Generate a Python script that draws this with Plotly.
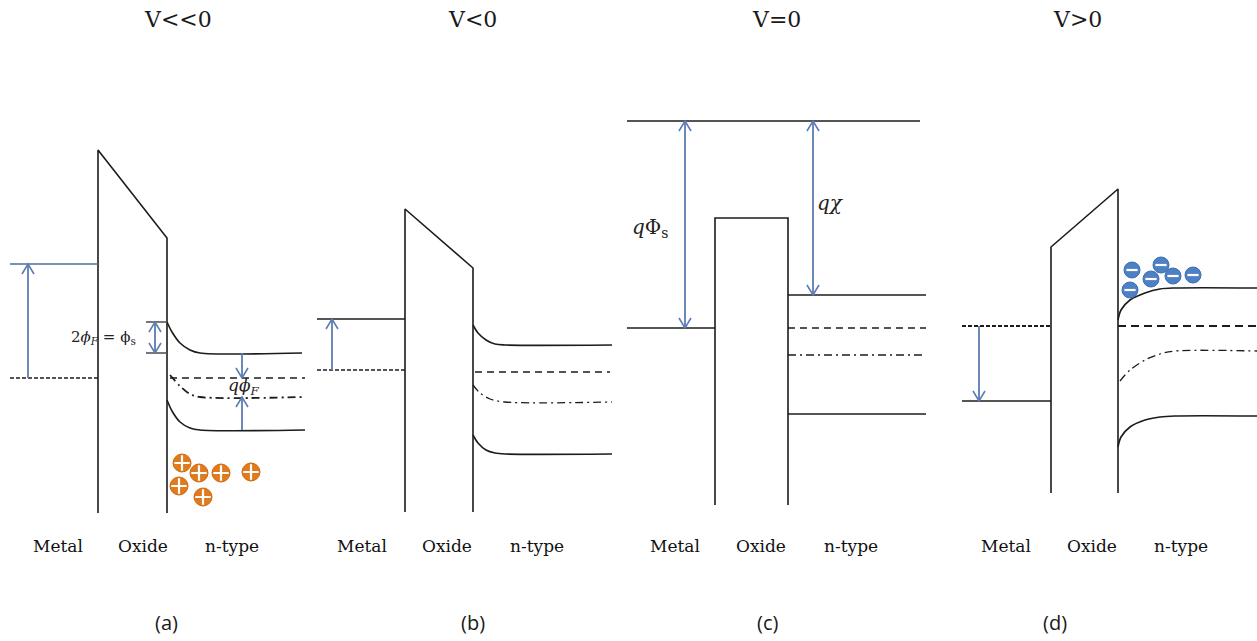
import plotly.graph_objects as go

# ---------------- data (pixel-space coordinates) -------------
titles = ["V<<0", "V<0", "V=0", "V>0"]
title_x = [178, 472, 776, 1077]
panel_tags = ["(a)", "(b)", "(c)", "(d)"]
tag_x = [166, 473, 767, 1055]
region_names = ["Metal", "Oxide", "n-type"]
region_x = [[58, 143, 232], [362, 447, 537], [675, 761, 851], [1006, 1092, 1181]]

# panel (a)
oxide_a_x = [98, 98, 167, 167]
oxide_a_y = [513, 150, 238, 513]
metal_a_x = [10, 98]
metal_a_top = 264
metal_a_ef = 378
cb_a_x = [167, 172, 180, 190, 200, 302]
cb_a_y = [322, 332, 343, 350, 353, 353]
ef_a_x = [170, 305]
ef_a_y = 378
ei_a_x = [170, 180, 190, 200, 305]
ei_a_y = [375, 386, 394, 397, 397]
vb_a_x = [167, 172, 180, 190, 200, 305]
vb_a_y = [400, 411, 422, 428, 430, 430]
plus_x = [182, 199, 221, 251, 179, 203]
plus_y = [463, 473, 473, 472, 486, 497]

# panel (b)
oxide_b_x = [405, 405, 473, 473]
oxide_b_y = [512, 209, 268, 512]
metal_b_x = [317, 405]
metal_b_top = 319
metal_b_ef = 370
cb_b_x = [473, 478, 486, 495, 505, 612]
cb_b_y = [325, 333, 340, 344, 345, 345]
ef_b_x = [475, 610]
ef_b_y = 372
ei_b_x = [473, 480, 490, 505, 612]
ei_b_y = [385, 393, 399, 402, 402]
vb_b_x = [473, 478, 486, 495, 505, 612]
vb_b_y = [435, 443, 450, 453, 454, 454]

# panel (c)
vac_c_x = [627, 920]
vac_c_y = 121
oxide_c_x = [715, 715, 788, 788]
oxide_c_y = [505, 218, 218, 505]
metal_c_x = [627, 715]
metal_c_y = 328
semi_c_x = [788, 926]
cb_c_y = 295
ef_c_y = 328
ei_c_y = 355
vb_c_y = 414

# panel (d)
oxide_d_x = [1051, 1051, 1118, 1118]
oxide_d_y = [493, 247, 189, 493]
metal_d_x = [962, 1051]
metal_d_bot = 401
metal_d_ef = 326
cb_d_x = [1118, 1121, 1130, 1145, 1160, 1175, 1257]
cb_d_y = [320, 310, 300, 293, 289, 288, 288]
ef_d_x = [1118, 1257]
ef_d_y = 326
ei_d_x = [1120, 1130, 1145, 1160, 1175, 1257]
ei_d_y = [381, 370, 360, 354, 351, 351]
vb_d_x = [1118, 1121, 1130, 1145, 1160, 1175, 1257]
vb_d_y = [447, 437, 427, 420, 417, 416, 416]
minus_x = [1132, 1161, 1151, 1173, 1193, 1130]
minus_y = [270, 265, 279, 276, 275, 290]

# arrows: (x, y_from, y_to, double?)
arrows = [
    (28, 378, 264, False),
    (155, 353, 322, True),
    (242, 353, 378, False),
    (242, 430, 397, False),
    (332, 370, 319, False),
    (685, 328, 121, True),
    (813, 295, 121, True),
    (979, 326, 401, False),
]

# ---------------- styling ----------------
BLACK = "#1c1c1c"
BLUE = "#5b7db3"
LW = 1.6
SERIF = "DejaVu Serif"

fig = go.Figure()


def line(x, y, color=BLACK, width=LW, dash="solid", spline=False):
    if not isinstance(y, (list, tuple)):
        y = [y] * len(x)
    fig.add_trace(go.Scatter(
        x=x, y=y, mode="lines", hoverinfo="skip", showlegend=False,
        line=dict(color=color, width=width, dash=dash,
                  shape="spline" if spline else "linear", smoothing=0.9)))


DASH = "7px,5px"
SHORTDASH = "4px,2px"
DASHDOT = "8px,4px,2px,4px"

# panel (a)
line(oxide_a_x, oxide_a_y)
line(metal_a_x, metal_a_top, color="#4f6d99")
line(metal_a_x, metal_a_ef, dash=SHORTDASH)
line(cb_a_x, cb_a_y, spline=True)
line(ef_a_x, ef_a_y, dash=DASH)
line(ei_a_x, ei_a_y, dash=DASHDOT, width=1.8, spline=True)
line(vb_a_x, vb_a_y, spline=True)
line([146, 167], 322, color="#555555")
line([146, 167], 353, color="#555555")

# panel (b)
line(oxide_b_x, oxide_b_y)
line(metal_b_x, metal_b_top)
line(metal_b_x, metal_b_ef, dash=SHORTDASH)
line(cb_b_x, cb_b_y, spline=True)
line(ef_b_x, ef_b_y, dash=DASH)
line(ei_b_x, ei_b_y, dash=DASHDOT, width=1.3, spline=True)
line(vb_b_x, vb_b_y, spline=True)

# panel (c)
line(vac_c_x, vac_c_y)
line(oxide_c_x, oxide_c_y)
line(metal_c_x, metal_c_y)
line(semi_c_x, cb_c_y)
line(semi_c_x, ef_c_y, dash=DASH, width=1.3)
line(semi_c_x, ei_c_y, dash=DASHDOT, width=1.3)
line(semi_c_x, vb_c_y)

# panel (d)
line(oxide_d_x, oxide_d_y)
line(metal_d_x, metal_d_bot)
line(metal_d_x, metal_d_ef, dash=SHORTDASH, width=2)
line(cb_d_x, cb_d_y, spline=True)
line(ef_d_x, ef_d_y, dash="8px,5px", width=2)
line(ei_d_x, ei_d_y, dash=DASHDOT, width=1.3, spline=True)
line(vb_d_x, vb_d_y, spline=True)

# arrows with open V heads
HW, HL = 6, 10


def head(x, y, s):
    # s = +1 when arrow points downward (tip larger y), -1 when upward
    line([x - HW, x, x + HW], [y - s * HL, y, y - s * HL], color=BLUE, width=1.6)


for ax_, y0, y1, dbl in arrows:
    line([ax_, ax_], [y0, y1], color=BLUE, width=1.8)
    s = 1 if y1 > y0 else -1
    head(ax_, y1, s)
    if dbl:
        head(ax_, y0, -s)

# charges
fig.add_trace(go.Scatter(x=plus_x, y=plus_y, mode="markers", hoverinfo="skip", showlegend=False,
                         marker=dict(symbol="circle", size=18, color="#e07a1c",
                                     line=dict(color="#d06a10", width=1))))
fig.add_trace(go.Scatter(x=plus_x, y=plus_y, mode="markers", hoverinfo="skip", showlegend=False,
                         marker=dict(symbol="cross-thin", size=11,
                                     line=dict(color="white", width=2.2))))
fig.add_trace(go.Scatter(x=minus_x, y=minus_y, mode="markers", hoverinfo="skip", showlegend=False,
                         marker=dict(symbol="circle", size=16, color="#4d80c4",
                                     line=dict(color="#3f70b0", width=1))))
fig.add_trace(go.Scatter(x=minus_x, y=minus_y, mode="markers", hoverinfo="skip", showlegend=False,
                         marker=dict(symbol="line-ew", size=8,
                                     line=dict(color="white", width=2.2))))

# ---------------- text ----------------
ann = []
for t, x in zip(titles, title_x):
    ann.append(dict(x=x, y=19, text=t, font=dict(family=SERIF, size=22, color="#1a1a1a")))
for t, x in zip(panel_tags, tag_x):
    ann.append(dict(x=x, y=622, text=t, font=dict(family="Open Sans", size=20, color="#1a1a1a")))
for xs in region_x:
    for name, x in zip(region_names, xs):
        ann.append(dict(x=x, y=546, text=name, font=dict(family=SERIF, size=17, color="#111")))

ann.append(dict(x=103, y=337, text="2<i>ϕ<sub>F</sub></i> = ϕ<sub>s</sub>",
                font=dict(family=SERIF, size=15, color="#222")))
ann.append(dict(x=243, y=386, text="<i>qϕ<sub>F</sub></i>",
                font=dict(family=SERIF, size=17, color="#222")))
ann.append(dict(x=650, y=228, text="<i>q</i>Φ<sub>s</sub>",
                font=dict(family=SERIF, size=20, color="#222")))
ann.append(dict(x=830, y=203, text="<i>qχ</i>",
                font=dict(family=SERIF, size=20, color="#222")))

for a in ann:
    a.update(xref="x", yref="y", showarrow=False, xanchor="center", yanchor="middle")

fig.update_layout(
    width=1257, height=641,
    margin=dict(l=0, r=0, t=0, b=0),
    paper_bgcolor="white", plot_bgcolor="white",
    xaxis=dict(range=[0, 1257], visible=False, fixedrange=True),
    yaxis=dict(range=[641, 0], visible=False, fixedrange=True),
    annotations=ann,
    showlegend=False,
)

fig.write_html("out.html", config={"displayModeBar": False},
               post_script="document.body.style.margin='0';document.body.style.overflow='hidden';")
